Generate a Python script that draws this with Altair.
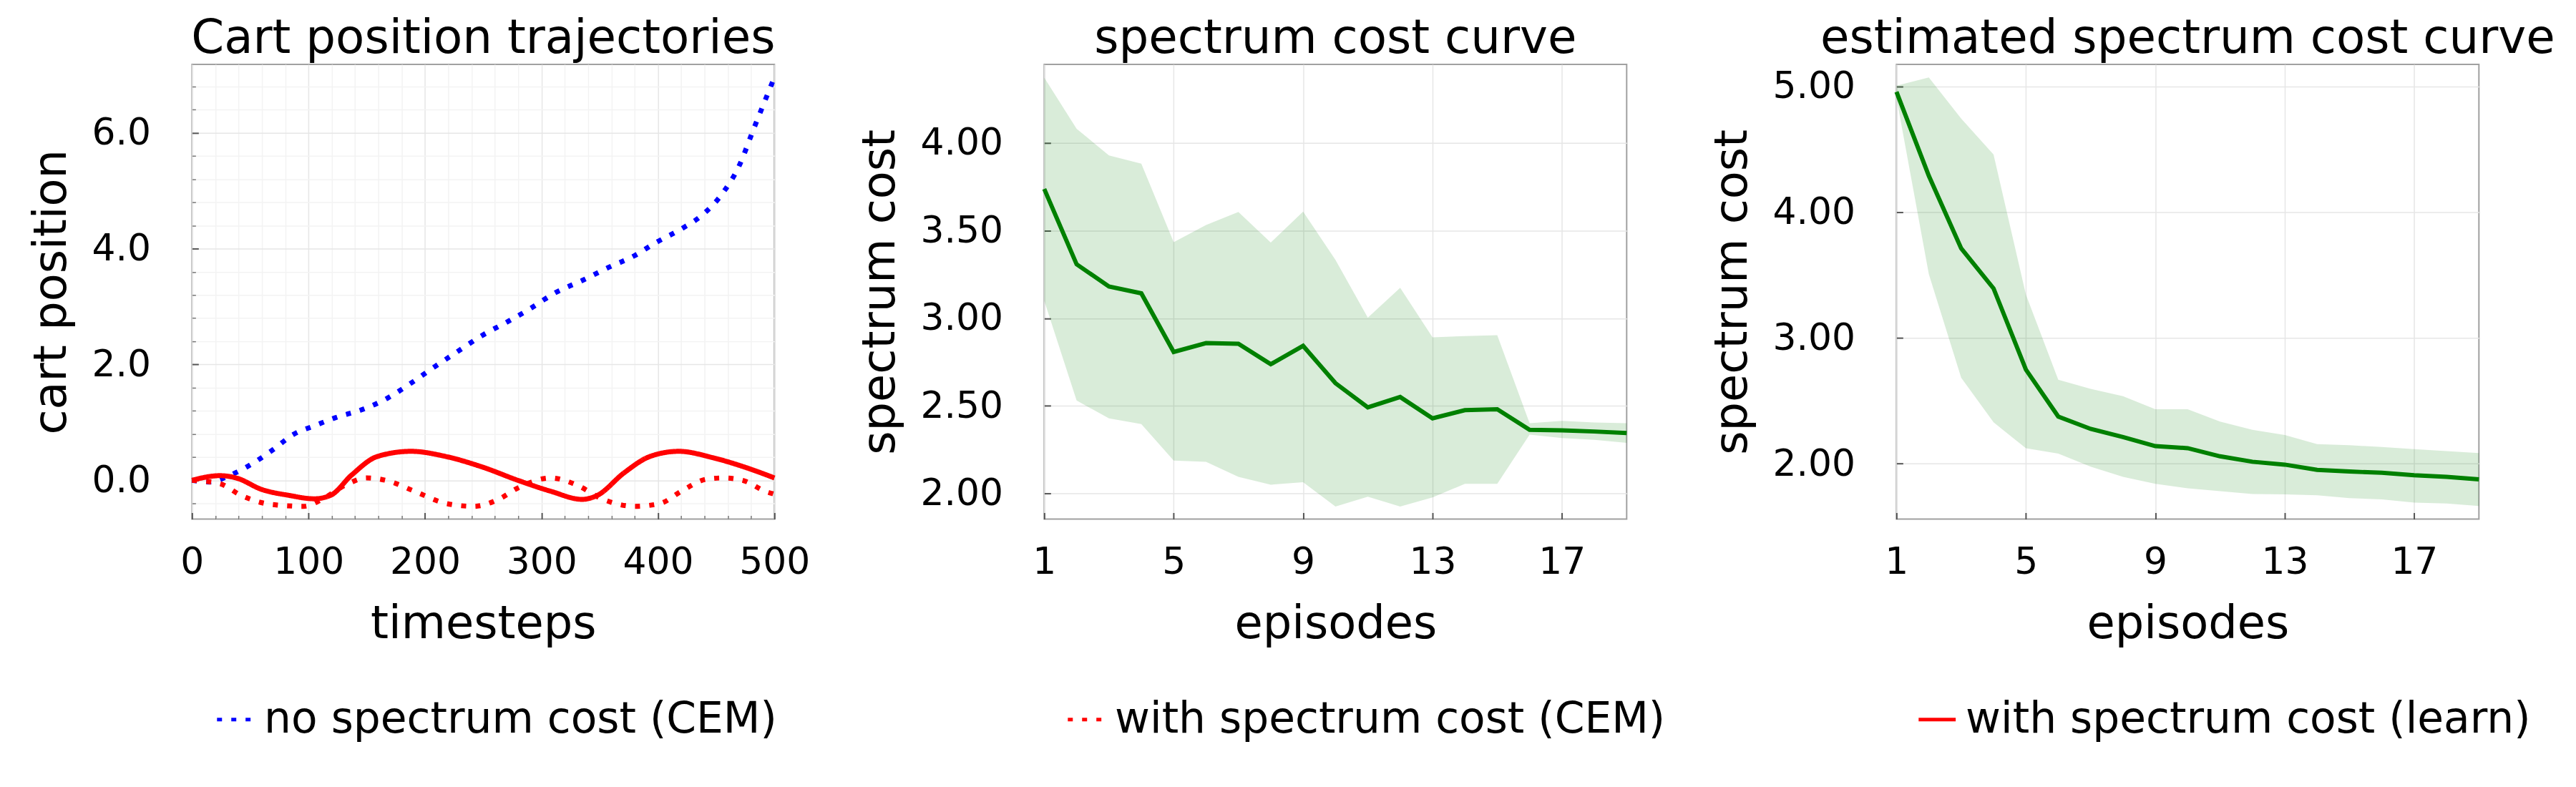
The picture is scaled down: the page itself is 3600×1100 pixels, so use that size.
import altair as alt
import pandas as pd

FONT = "DejaVu Sans"

# ---------------- data ----------------
series_names = ["no spectrum cost (CEM)", "with spectrum cost (CEM)", "with spectrum cost (learn)"]
series_colors = ["#0000ff", "#ff0000", "#ff0000"]

t_no_cem = [0, 15, 33, 47, 69, 87, 105, 123, 146, 168, 186, 209, 227, 249, 272, 290,
            312, 335, 357, 380, 397, 420, 438, 456, 469, 483, 500]
x_no_cem = [0.0, -0.03, 0.09, 0.23, 0.52, 0.79, 0.94, 1.08, 1.22, 1.42, 1.65, 1.97, 2.21,
            2.50, 2.75, 2.96, 3.24, 3.45, 3.67, 3.88, 4.09, 4.34, 4.58, 4.97, 5.40, 6.11, 6.96]

t_cem = [0, 24, 42, 69, 96, 114, 132, 150, 168, 191, 218, 242, 263, 281, 308, 330, 353,
         380, 402, 420, 442, 456, 474, 492, 500]
x_cem = [0.0, -0.06, -0.26, -0.42, -0.45, -0.30, -0.08, 0.04, -0.01, -0.19, -0.40, -0.45,
         -0.33, -0.12, 0.04, -0.08, -0.33, -0.45, -0.40, -0.19, 0.02, 0.04, -0.01, -0.19, -0.24]

t_learn = [0, 24, 38, 60, 83, 105, 119, 137, 159, 188, 218, 249, 281, 308, 335, 348, 371,
           393, 418, 447, 474, 500]
x_learn = [0.0, 0.08, 0.04, -0.16, -0.26, -0.32, -0.26, 0.09, 0.41, 0.50, 0.41, 0.23, -0.01,
           -0.19, -0.33, -0.26, 0.13, 0.41, 0.50, 0.39, 0.23, 0.04]

episodes = list(range(1, 20))
cost_mean = [3.738, 3.308, 3.181, 3.142, 2.807, 2.858, 2.854, 2.737, 2.842, 2.629, 2.491,
             2.550, 2.428, 2.475, 2.480, 2.363, 2.360, 2.353, 2.344]
cost_upper = [4.374, 4.082, 3.930, 3.883, 3.434, 3.532, 3.607, 3.432, 3.609, 3.333, 3.003,
              3.174, 2.891, 2.898, 2.903, 2.400, 2.414, 2.405, 2.400]
cost_lower = [3.099, 2.530, 2.428, 2.395, 2.187, 2.180, 2.094, 2.049, 2.063, 1.925, 1.981,
              1.925, 1.977, 2.054, 2.054, 2.335, 2.316, 2.306, 2.288]

est_mean = [4.958, 4.290, 3.713, 3.394, 2.749, 2.375, 2.277, 2.212, 2.140, 2.124, 2.059,
            2.016, 1.993, 1.951, 1.938, 1.928, 1.909, 1.896, 1.876]
est_upper = [5.007, 5.072, 4.746, 4.459, 3.345, 2.668, 2.596, 2.537, 2.433, 2.433, 2.336,
             2.270, 2.228, 2.156, 2.147, 2.134, 2.117, 2.101, 2.085]
est_lower = [4.909, 3.508, 2.684, 2.329, 2.124, 2.081, 1.977, 1.896, 1.840, 1.805, 1.782,
             1.759, 1.756, 1.749, 1.726, 1.717, 1.691, 1.684, 1.664]

x1_major = [0, 100, 200, 300, 400, 500]
x1_minor = [v for v in range(0, 501, 20) if v % 100 != 0]
y1_major = [0.0, 2.0, 4.0, 6.0]
y1_minor = [-0.4, 0.4, 0.8, 1.2, 1.6, 2.4, 2.8, 3.2, 3.6, 4.4, 4.8, 5.2, 5.6, 6.4, 6.8]
ep_ticks = [1, 5, 9, 13, 17]
y2_ticks = [2.0, 2.5, 3.0, 3.5, 4.0]
y3_ticks = [2.0, 3.0, 4.0, 5.0]

# ---------------- tables ----------------
traj = pd.concat([
    pd.DataFrame({"t": t_no_cem, "pos": x_no_cem, "series": series_names[0]}),
    pd.DataFrame({"t": t_cem, "pos": x_cem, "series": series_names[1]}),
    pd.DataFrame({"t": t_learn, "pos": x_learn, "series": series_names[2]}),
])
cost_df = pd.DataFrame({"ep": episodes, "mean": cost_mean, "lo": cost_lower, "hi": cost_upper})
est_df = pd.DataFrame({"ep": episodes, "mean": est_mean, "lo": est_lower, "hi": est_upper})

W, H = 816, 637
TICK = 9
MINOR = 5
GRID = "#e6e6e6"
GRID_MINOR = "#f3f3f3"


def major_axis(orient, values, fmt, title, grid_color=GRID):
    if orient == "left":
        extra = dict(labelPadding=58, titlePadding=24)
    else:
        extra = dict(labelPadding=76, labelBaseline="alphabetic", titlePadding=80,
                     titleBaseline="alphabetic")
    return alt.Axis(orient=orient, values=values, format=fmt, title=title, domain=False,
                    ticks=True, tickSize=TICK, offset=-TICK, tickColor="#555555", tickWidth=2,
                    grid=True, gridColor=grid_color, gridWidth=1.5,
                    labelFlush=False, labelOverlap=False,
                    labelFont=FONT, labelFontSize=52, labelColor="black",
                    titleFont=FONT, titleFontSize=64, titleFontWeight="normal",
                    titleColor="black", **extra)


def minor_axis(orient, values):
    return alt.Axis(orient=orient, values=values, title=None, labels=False, domain=False,
                    ticks=True, tickSize=MINOR, offset=-MINOR, tickColor="#777777",
                    tickWidth=1.5, grid=True, gridColor=GRID_MINOR, gridWidth=1.5)


def panel_title(text):
    return alt.Title(text, font=FONT, fontSize=66, fontWeight="normal", color="black",
                     offset=2)


# ---------------- panel 1 ----------------
xs1 = alt.Scale(domain=[0, 500], nice=False, zero=False)
ys1 = alt.Scale(domain=[-0.67, 7.18], nice=False, zero=False)

lines1 = alt.Chart(traj).mark_line(interpolate="monotone", strokeWidth=7, strokeCap="butt").encode(
    x=alt.X("t:Q", scale=xs1, axis=major_axis("bottom", x1_major, "d", "timesteps")),
    y=alt.Y("pos:Q", scale=ys1, axis=major_axis("left", y1_major, ".1f", "cart position")),
    color=alt.Color("series:N", scale=alt.Scale(domain=series_names, range=series_colors),
                    legend=alt.Legend(title=None)),
    strokeDash=alt.StrokeDash("series:N",
                              scale=alt.Scale(domain=series_names, range=[[7, 13], [7, 13], [1, 0]]),
                              legend=alt.Legend(title=None)),
    order=alt.Order("t:Q"),
)
minor1 = alt.Chart(traj).mark_line(opacity=0).encode(
    x=alt.X("t:Q", scale=xs1, axis=minor_axis("bottom", x1_minor)),
    y=alt.Y("pos:Q", scale=ys1, axis=minor_axis("left", y1_minor)),
    detail="series:N",
)
p1 = alt.layer(minor1, lines1).resolve_axis(x="independent", y="independent").properties(
    width=W, height=H, title=panel_title("Cart position trajectories"))

# ---------------- panel 2 ----------------
xs2 = alt.Scale(domain=[1, 19], nice=False, zero=False)
ys2 = alt.Scale(domain=[1.853, 4.449], nice=False, zero=False)
band2 = alt.Chart(cost_df).mark_area(color="green", opacity=0.15).encode(
    x=alt.X("ep:Q", scale=xs2, axis=major_axis("bottom", ep_ticks, "d", "episodes")),
    y=alt.Y("lo:Q", scale=ys2, axis=major_axis("left", y2_ticks, ".2f", "spectrum cost")),
    y2="hi:Q",
)
line2 = alt.Chart(cost_df).mark_line(color="green", strokeWidth=6).encode(
    x=alt.X("ep:Q", scale=xs2), y=alt.Y("mean:Q", scale=ys2))
p2 = alt.layer(band2, line2).properties(width=W, height=H, title=panel_title("spectrum cost curve"))

# ---------------- panel 3 ----------------
xs3 = alt.Scale(domain=[1, 19], nice=False, zero=False)
ys3 = alt.Scale(domain=[1.56, 5.176], nice=False, zero=False)
band3 = alt.Chart(est_df).mark_area(color="green", opacity=0.15).encode(
    x=alt.X("ep:Q", scale=xs3, axis=major_axis("bottom", ep_ticks, "d", "episodes")),
    y=alt.Y("lo:Q", scale=ys3, axis=major_axis("left", y3_ticks, ".2f", "spectrum cost")),
    y2="hi:Q",
)
line3 = alt.Chart(est_df).mark_line(color="green", strokeWidth=6).encode(
    x=alt.X("ep:Q", scale=xs3), y=alt.Y("mean:Q", scale=ys3))
p3 = alt.layer(band3, line3).properties(width=W, height=H,
                                        title=panel_title("estimated spectrum cost curve"))

chart = alt.hconcat(p1, p2, p3, spacing=378, bounds="flush").resolve_scale(
    x="independent", y="independent"
).properties(
    padding={"left": 31, "top": 11, "right": 20, "bottom": 10}
).configure(
    background="white"
).configure_view(
    stroke="#a0a0a0", strokeWidth=2
).configure_legend(
    orient="none", legendX=31, legendY=888, direction="horizontal", columns=3,
    gridAlign="all", columnPadding=324, labelFont=FONT, labelFontSize=60,
    labelColor="black", labelOffset=10, symbolType="stroke", symbolSize=2700,
    symbolStrokeWidth=5, labelLimit=0, padding=0,
)

chart.save("out.html", embed_options={"renderer": "svg", "actions": False})
